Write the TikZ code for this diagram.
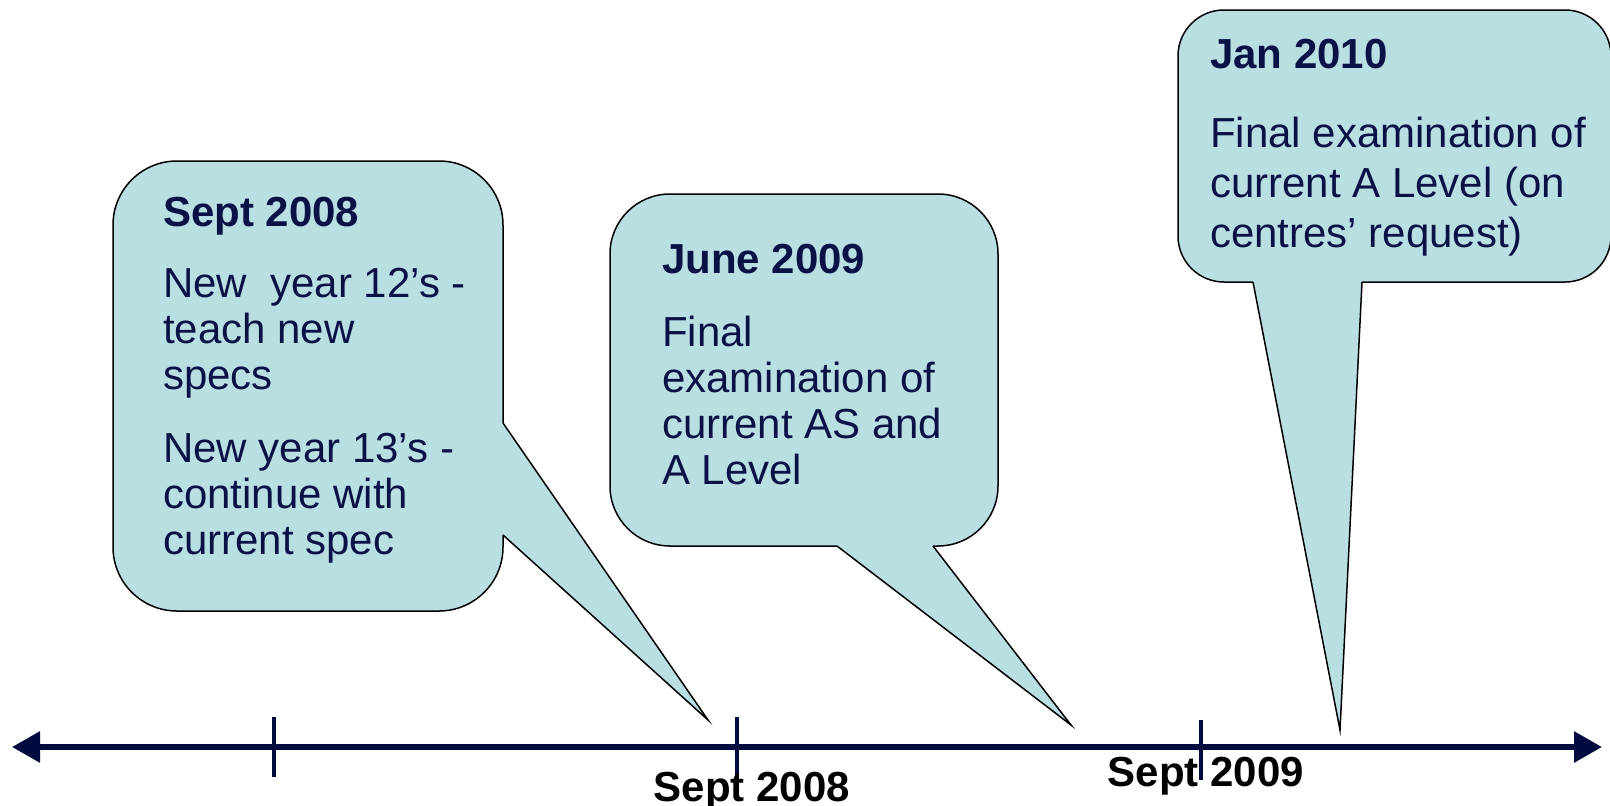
\documentclass[tikz,border=0pt]{standalone}
\usepackage{fontspec}
\setmainfont{Liberation Sans}
\usetikzlibrary{arrows.meta}
\definecolor{callfill}{HTML}{B9DFE3}
\definecolor{navytxt}{HTML}{0A1245}
\definecolor{axisblue}{HTML}{000B40}
\tikzset{
  callbox/.style={draw=black, fill=callfill, line width=1.5pt, inner sep=0pt},
  tailfill/.style={fill=callfill},
  tailline/.style={draw=black, line width=1.5pt, line join=miter},
  ctitle/.style={anchor=base west, inner sep=0pt, text=navytxt, font=\fontsize{42}{46}\selectfont\bfseries},
  cbody/.style={anchor=base west, inner sep=0pt, text=navytxt, font=\fontsize{42}{46}\selectfont},
  datelbl/.style={anchor=base, inner sep=0pt, text=black, font=\fontsize{42}{46}\selectfont\bfseries},
  tickline/.style={draw=axisblue, line width=4pt},
}
\newcommand{\blines}[2][46pt]{\parbox[t]{440pt}{\raggedright\baselineskip=#1 #2}}
\begin{document}
\begin{tikzpicture}[x=1pt,y=-1pt]
\useasboundingbox (0,0) rectangle (1610,806);

% timeline axis
\coordinate (axL) at (12,747);
\coordinate (axR) at (1602,747);
\draw[draw=axisblue, line width=6pt, {Triangle[length=28pt,width=30pt]}-{Triangle[length=28pt,width=30pt]}] (axL) -- (axR);
\coordinate (k1t) at (274,717); \coordinate (k1b) at (274,777);
\coordinate (k2t) at (737,717); \coordinate (k2b) at (737,777);
\coordinate (k3t) at (1201,720); \coordinate (k3b) at (1201,780);
\draw[tickline] (k1t) -- (k1b);
\draw[tickline] (k2t) -- (k2b);
\draw[tickline] (k3t) -- (k3b);
\node[datelbl] (d1) at (752,801) {Sept 2008};
\node[datelbl] (d2) at (1206,786) {Sept 2009};

% callout 1
\node[callbox, rounded corners=64pt, minimum width=390pt, minimum height=450pt] (box1) at (308,386) {};
\coordinate (tip1) at (708,720);
\coordinate (a1u) at (503,423);
\coordinate (a1l) at (503,535);
\fill[tailfill] (tip1) -- (a1u) -- ([xshift=-4pt]a1u) -- ([xshift=-4pt]a1l) -- (a1l) -- cycle;
\draw[tailline] (a1u) -- (tip1) -- (a1l);
\node[ctitle] (t1) at (163,226) {Sept 2008};
\node[cbody] (b1a) at (163,297) {\blines{New\ \ year 12’s -\\teach new\\specs}};
\node[cbody] (b1b) at (163,462) {\blines{New year 13’s -\\continue with\\current spec}};

% callout 2
\node[callbox, rounded corners=60pt, minimum width=388pt, minimum height=352pt] (box2) at (804,370) {};
\coordinate (tip2) at (1071,725);
\coordinate (a2l) at (837,546);
\coordinate (a2r) at (933,546);
\fill[tailfill] (tip2) -- (a2l) -- ([yshift=4pt]a2l) -- ([yshift=4pt]a2r) -- (a2r) -- cycle;
\draw[tailline] (a2l) -- (tip2) -- (a2r);
\node[ctitle] (t2) at (662,273) {June 2009};
\node[cbody] (b2) at (662,346) {\blines{Final\\examination of\\current AS and\\A Level}};

% callout 3
\node[callbox, rounded corners=46pt, minimum width=433pt, minimum height=272pt] (box3) at (1394.5,146) {};
\coordinate (tip3) at (1340,730);
\coordinate (a3l) at (1253,282);
\coordinate (a3r) at (1362,282);
\fill[tailfill] (tip3) -- (a3l) -- ([yshift=4pt]a3l) -- ([yshift=4pt]a3r) -- (a3r) -- cycle;
\draw[tailline] (a3l) -- (tip3) -- (a3r);
\node[ctitle] (t3) at (1210,68) {Jan 2010};
\node[cbody] (b3) at (1210,147) {\blines[50pt]{Final examination of\\current A Level (on\\centres’ request)}};
\end{tikzpicture}
\end{document}
